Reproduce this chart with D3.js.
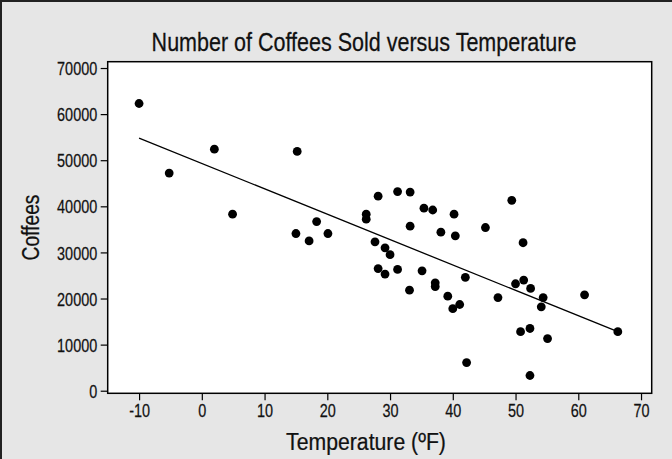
<!DOCTYPE html>
<html><head><meta charset="utf-8">
<script src="https://cdn.jsdelivr.net/npm/d3@7"></script>
<style>
html,body{margin:0;padding:0;background:#e6e6e6;}
svg{display:block;}
text{font-family:"Liberation Sans Narrow","Liberation Sans",Arial,sans-serif;fill:#111;}
</style></head>
<body>
<script>
const title = "Number of Coffees Sold versus Temperature";
const xLabel = "Temperature (ºF)";
const yLabel = "Coffees";
const temperature = [-10, -5.2, 2.0, 4.9, 15.2, 15.0, 17.1, 18.3, 20.1, 26.2, 26.2, 28.1, 27.6, 29.2, 30.0,
  31.2, 33.2, 33.2, 35.4, 36.8, 38.1, 40.2, 40.4, 28.1, 29.2, 31.2, 35.1, 42.0, 49.4, 45.2,
  51.2, 33.1, 37.2, 37.2, 39.2, 41.1, 40.0, 42.2, 47.2, 50.0, 51.3, 52.4, 54.4, 54.1, 61.0,
  66.3, 50.8, 52.3, 55.1, 52.3];
const coffees = [62300, 47200, 52400, 38300, 51900, 34100, 32500, 36700, 34100, 38300, 37200, 42200, 32300, 31000, 29500,
  43200, 43100, 35700, 39600, 39200, 34400, 38300, 33600, 26500, 25300, 26300, 26000, 24600, 41300, 35400,
  32100, 21800, 23400, 22600, 20500, 18700, 17800, 6100, 20200, 23200, 24000, 22200, 20200, 18200, 20800,
  12800, 12800, 13500, 11300, 3300];
const fitTemperature = [-10, 66.3];
const fitCoffees = [54800, 12800];
const xTicks = [-10, 0, 10, 20, 30, 40, 50, 60, 70];
const yTicks = [0, 10000, 20000, 30000, 40000, 50000, 60000, 70000];

const W = 672, H = 459;
const L = 107.7, R = 651.7, T = 61.7, B = 393.3;
const NARROW = 0.76;
const svg = d3.select("body").append("svg").attr("width", W).attr("height", H);
svg.append("rect").attr("width", W).attr("height", H).attr("fill", "#e6e6e6");
svg.append("path").attr("d", `M1,${H} V1 H${W}`).attr("fill", "none").attr("stroke", "#222").attr("stroke-width", 2);

const x = d3.scaleLinear().domain([-15, 71.7]).range([L, R]);
const y = d3.scaleLinear().domain([-560, 71370]).range([B, T]);

svg.append("rect").attr("x", L).attr("y", T).attr("width", R - L).attr("height", B - T)
  .attr("fill", "#fff").attr("stroke", "#000").attr("stroke-width", 1.5);

const xa = svg.append("g").attr("transform", `translate(0,${B})`)
  .call(d3.axisBottom(x).tickValues(xTicks).tickSize(7).tickPadding(3).tickSizeOuter(0)
    .tickFormat(d => String(d)));
const ya = svg.append("g").attr("transform", `translate(${L},0)`)
  .call(d3.axisLeft(y).tickValues(yTicks).tickSize(7).tickPadding(3).tickSizeOuter(0)
    .tickFormat(d => String(d)));
[xa, ya].forEach(g => {
  g.select(".domain").remove();
  g.attr("font-family", null).attr("font-size", null);
  g.selectAll(".tick line").attr("stroke", "#000").attr("stroke-width", 1.2);
  g.selectAll("text").attr("font-size", 19).attr("fill", "#111")
    .attr("stroke", "#111").attr("stroke-width", 0.25);
});
xa.selectAll(".tick text").attr("transform", `scale(${NARROW},1)`).attr("y", 10).attr("dy", "0.71em");
ya.selectAll(".tick text").attr("transform", `scale(${NARROW},1)`).attr("x", -10.5 / NARROW).attr("dy", "0.35em");

svg.append("line")
  .attr("x1", x(fitTemperature[0])).attr("y1", y(fitCoffees[0]))
  .attr("x2", x(fitTemperature[1])).attr("y2", y(fitCoffees[1]))
  .attr("stroke", "#000").attr("stroke-width", 1.3);

svg.append("g").selectAll("circle").data(temperature).join("circle")
  .attr("cx", (d) => x(d)).attr("cy", (d, i) => y(coffees[i])).attr("r", 4.4).attr("fill", "#000");

function fitText(txt, cx, cy, size, targetW, rotate) {
  const g = svg.append("g").attr("transform", `translate(${cx},${cy})` + (rotate ? " rotate(-90)" : ""));
  const t = g.append("text").attr("text-anchor", "middle").attr("font-size", size)
    .attr("stroke", "#111").attr("stroke-width", 0.25).text(txt);
  const w = t.node().getComputedTextLength();
  t.attr("transform", `scale(${targetW / w},1)`);
  return t;
}
fitText(title, 364, 51, 25, 425, false);
fitText(xLabel, 366, 450, 23.5, 160, false);
fitText(yLabel, 39, (T + B) / 2, 23.5, 66, true);
</script>
</body></html>
